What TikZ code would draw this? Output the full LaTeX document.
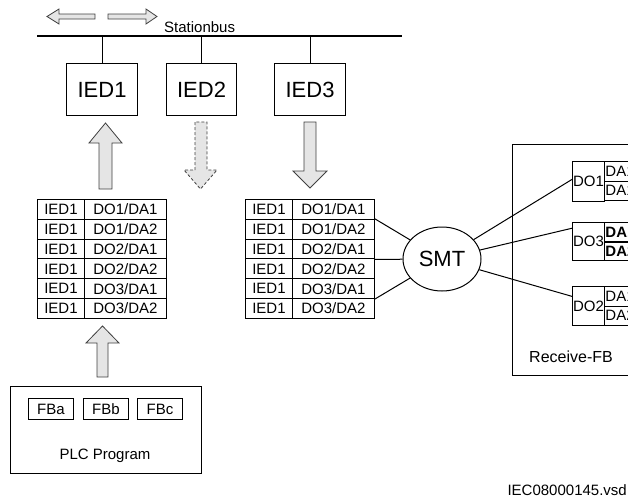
\documentclass[tikz,border=0pt]{standalone}
\usepackage{fontspec}
\setmainfont{Liberation Sans}
\usetikzlibrary{calc,shapes.geometric}
\begin{document}
\begin{tikzpicture}[x=1pt,y=-1pt,
  every node/.style={font=\fontsize{15}{18}\selectfont},
  box/.style={draw,line width=1.1pt,inner sep=0pt,anchor=north west},
  cell/.style={draw,line width=0.9pt,inner sep=0pt,minimum height=19.83pt,anchor=north west},
  dacell/.style={draw,line width=0.9pt,inner xsep=1pt,inner ysep=0pt,minimum height=19.5pt,text width=38pt,align=left,anchor=north west},
  blk/.style={draw=black!75,fill=gray!20,line width=0.8pt,line join=miter},
  wire/.style={line width=1pt},
  big/.style={font=\fontsize{22}{26}\selectfont}]
\useasboundingbox (0,0) rectangle (628,498);
\clip (0,0) rectangle (628,498);

% station bus
\coordinate (busL) at (37,36);
\coordinate (busR) at (402,36);
\draw[line width=1.8pt] (busL) -- (busR);
\node[anchor=west,inner sep=0pt] (sblabel) at (164,27) {Stationbus};
\draw[blk] (95,14) -- (59,14) -- (59,9) -- (47,16.5) -- (59,24) -- (59,19) -- (95,19) -- cycle;
\draw[blk] (108,14) -- (146,14) -- (146,9) -- (157,16.5) -- (146,24) -- (146,19) -- (108,19) -- cycle;

% IEDs
\node[box,big,minimum width=71pt,minimum height=52pt] (ied1) at (66,63) {IED1};
\node[box,big,minimum width=70pt,minimum height=52pt] (ied2) at (166,63) {IED2};
\node[box,big,minimum width=71pt,minimum height=52pt] (ied3) at (274,63) {IED3};
\foreach \n in {ied1,ied2,ied3}{\draw[wire] (\n.north) -- (\n.north |- busL);}

% block arrows
\draw[blk] (99,189) -- (99,143) -- (89,143) -- (105.5,123) -- (122,143) -- (112,143) -- (112,189) -- cycle;
\draw[blk,dash pattern=on 3pt off 2pt] (195,122) -- (195,170) -- (184,170) -- (200.5,189) -- (217,170) -- (207,170) -- (207,122) -- cycle;
\draw[blk] (304,122) -- (304,171) -- (293,171) -- (310,188) -- (327,171) -- (316,171) -- (316,122) -- cycle;
\draw[blk] (97,377) -- (97,343) -- (86,343) -- (102.5,326) -- (119,343) -- (108,343) -- (108,377) -- cycle;

% tables
\foreach [count=\i] \b in {DO1/DA1,DO1/DA2,DO2/DA1,DO2/DA2,DO3/DA1,DO3/DA2}{
  \node[cell,minimum width=47pt] (L\i a) at (37,{199+(\i-1)*19.83}) {IED1};
  \node[cell,minimum width=82pt] (L\i b) at (84,{199+(\i-1)*19.83}) {\b};
  \node[cell,minimum width=47pt] (R\i a) at (245,{199+(\i-1)*19.83}) {IED1};
  \node[cell,minimum width=82pt] (R\i b) at (292,{199+(\i-1)*19.83}) {\b};
}

% SMT
\node[draw,ellipse,line width=1pt,inner sep=0pt,minimum width=78pt,minimum height=64pt,big] (smt) at (442,259) {SMT};
\draw[wire] (R2b.north east) -- (smt);
\draw[wire] (R3b.south east) -- (smt);
\draw[wire] (R5b.south east) -- (smt);

% Receive-FB
\node[box,minimum width=140pt,minimum height=231pt] (recv) at (512,144) {};
\node[anchor=west,inner sep=0pt,font=\fontsize{16}{19}\selectfont] (recvlabel) at (529,357) {Receive-FB};

\node[box,line width=0.9pt,minimum width=32pt,minimum height=40pt] (do1) at (572,161) {DO1};
\node[dacell] (do1a) at (604,161) {DA1};
\node[dacell] (do1b) at (604,180.5) {DA1};

\node[box,line width=0.9pt,minimum width=32pt,minimum height=38pt] (do3) at (572,222) {DO3};
\node[dacell,minimum height=19pt,font=\fontsize{15}{18}\selectfont\bfseries] (do3a) at (604,222) {DA1};
\node[dacell,minimum height=19pt,font=\fontsize{15}{18}\selectfont\bfseries] (do3b) at (604,241) {DA2};
\draw[line width=1.8pt] (do3a.south west) -- (do3a.south east);

\node[box,line width=0.9pt,minimum width=32pt,minimum height=39pt] (do2) at (572,286) {DO2};
\node[dacell] (do2a) at (604,286) {DA1};
\node[dacell] (do2b) at (604,305.5) {DA2};

\draw[wire] (smt) -- ($(do1.north west)!0.45!(do1.south west)$);
\draw[wire] (smt) -- ($(do3.north west)!0.16!(do3.south west)$);
\draw[wire] (smt) -- ($(do2.north west)!0.26!(do2.south west)$);

% PLC
\node[box,minimum width=191pt,minimum height=87pt] (plc) at (10,386) {};
\node[box,line width=0.9pt,minimum width=45pt,minimum height=21pt] (fba) at (28,398) {FBa};
\node[box,line width=0.9pt,minimum width=45pt,minimum height=21pt] (fbb) at (83,398) {FBb};
\node[box,line width=0.9pt,minimum width=45pt,minimum height=21pt] (fbc) at (137,398) {FBc};
\node (plclabel) at (105,456) {PLC Program};

\node[anchor=east,inner sep=0pt] (fname) at (627,490) {IEC08000145.vsd};
\end{tikzpicture}
\end{document}
